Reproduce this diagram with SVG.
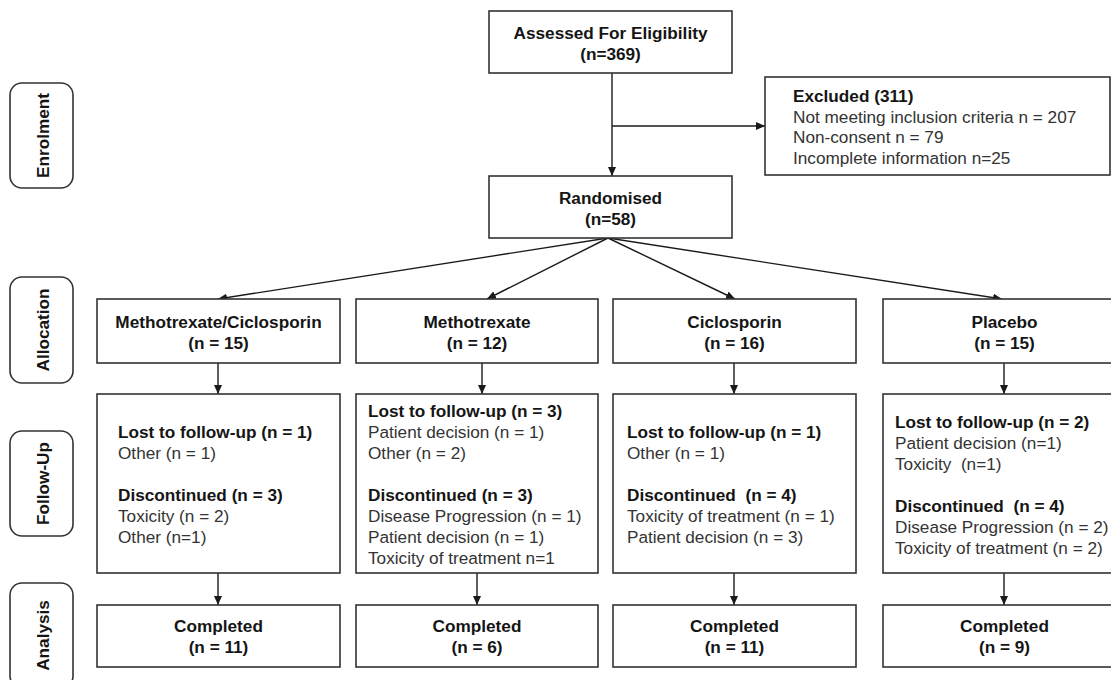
<svg xmlns="http://www.w3.org/2000/svg" width="1111" height="680" viewBox="0 0 1111 680">
<defs>
<marker id="ah" markerUnits="userSpaceOnUse" markerWidth="9" markerHeight="8" refX="9" refY="4" orient="auto">
<path d="M0,0 L9,4 L0,8 z" fill="#1a1a1a"/>
</marker>
<style>
.box{fill:#fff;stroke:#333;stroke-width:1.6}
.lab{fill:#fff;stroke:#333;stroke-width:1.6}
.t{font-family:"Liberation Sans",Arial,Helvetica,sans-serif;font-size:17.2px}
.b{font-weight:bold;fill:#151515}
.r{fill:#333}
.c{text-anchor:middle}
.con{fill:none;stroke:#1a1a1a;stroke-width:1.4;marker-end:url(#ah)}
.plain{fill:none;stroke:#1a1a1a;stroke-width:1.4}
</style>
</defs>
<rect width="1111" height="680" fill="#fff"/>

<g id="stage-labels">
<g id="lab-enrolment"><rect class="lab" x="10" y="83" width="63" height="105" rx="12"/><text class="t b c" transform="translate(48.5,135.5) rotate(-90)">Enrolment</text></g>
<g id="lab-allocation"><rect class="lab" x="10" y="277" width="63" height="106" rx="12"/><text class="t b c" transform="translate(48.5,330) rotate(-90)">Allocation</text></g>
<g id="lab-followup"><rect class="lab" x="10" y="431" width="63" height="105" rx="12"/><text class="t b c" transform="translate(48.5,483.5) rotate(-90)">Follow-Up</text></g>
<g id="lab-analysis"><rect class="lab" x="10" y="583" width="63" height="105" rx="12"/><text class="t b c" transform="translate(48.5,635.5) rotate(-90)">Analysis</text></g>
</g>

<g id="connectors">
<line class="con" x1="612" y1="73" x2="612" y2="176"/>
<line class="con" x1="612" y1="126" x2="765" y2="126"/>
<line class="con" x1="608" y1="238" x2="218" y2="299"/>
<line class="con" x1="608" y1="238" x2="487" y2="299"/>
<line class="con" x1="608" y1="238" x2="735" y2="299"/>
<line class="con" x1="608" y1="238" x2="1002" y2="299"/>
<line class="con" x1="218" y1="363" x2="218" y2="394"/>
<line class="con" x1="482" y1="363" x2="482" y2="394"/>
<line class="con" x1="734" y1="363" x2="734" y2="394"/>
<line class="con" x1="1004" y1="363" x2="1004" y2="394"/>
<line class="con" x1="218" y1="573" x2="218" y2="605"/>
<line class="con" x1="477" y1="573" x2="477" y2="605"/>
<line class="con" x1="734" y1="573" x2="734" y2="605"/>
<line class="con" x1="1004" y1="573" x2="1004" y2="605"/>
</g>

<g id="assessed">
<rect class="box" x="489" y="11" width="243" height="62"/>
<text class="t b c" x="610.5" y="39">Assessed For Eligibility</text>
<text class="t b c" x="610.5" y="60">(n=369)</text>
</g>

<g id="excluded">
<rect class="box" x="765" y="77" width="345" height="98"/>
<text class="t b" x="793" y="102">Excluded (311)</text>
<text class="t r" x="793" y="122.5">Not meeting inclusion criteria n = 207</text>
<text class="t r" x="793" y="143">Non-consent n = 79</text>
<text class="t r" x="793" y="163.5">Incomplete information n=25</text>
</g>

<g id="randomised">
<rect class="box" x="489" y="176" width="243" height="62"/>
<text class="t b c" x="610.5" y="203.5">Randomised</text>
<text class="t b c" x="610.5" y="224.5">(n=58)</text>
</g>

<g id="alloc-mc">
<rect class="box" x="97" y="299" width="243" height="64"/>
<text class="t b c" x="218.5" y="328">Methotrexate/Ciclosporin</text>
<text class="t b c" x="218.5" y="349">(n = 15)</text>
</g>
<g id="alloc-m">
<rect class="box" x="356" y="299" width="242" height="64"/>
<text class="t b c" x="477" y="328">Methotrexate</text>
<text class="t b c" x="477" y="349">(n = 12)</text>
</g>
<g id="alloc-c">
<rect class="box" x="613" y="299" width="243" height="64"/>
<text class="t b c" x="734.5" y="328">Ciclosporin</text>
<text class="t b c" x="734.5" y="349">(n = 16)</text>
</g>
<g id="alloc-p">
<rect class="box" x="883" y="299" width="243" height="64"/>
<text class="t b c" x="1004.5" y="328">Placebo</text>
<text class="t b c" x="1004.5" y="349">(n = 15)</text>
</g>

<g id="follow-mc">
<rect class="box" x="97" y="394" width="243" height="179"/>
<text class="t b" x="118" y="438">Lost to follow-up (n = 1)</text>
<text class="t r" x="118" y="459">Other (n = 1)</text>
<text class="t b" x="118" y="501">Discontinued (n = 3)</text>
<text class="t r" x="118" y="522">Toxicity (n = 2)</text>
<text class="t r" x="118" y="543">Other (n=1)</text>
</g>
<g id="follow-m">
<rect class="box" x="356" y="394" width="242" height="179"/>
<text class="t b" x="368" y="417">Lost to follow-up (n = 3)</text>
<text class="t r" x="368" y="438">Patient decision (n = 1)</text>
<text class="t r" x="368" y="459">Other (n = 2)</text>
<text class="t b" x="368" y="501">Discontinued (n = 3)</text>
<text class="t r" x="368" y="522">Disease Progression (n = 1)</text>
<text class="t r" x="368" y="543">Patient decision (n = 1)</text>
<text class="t r" x="368" y="563.5">Toxicity of treatment n=1</text>
</g>
<g id="follow-c">
<rect class="box" x="613" y="394" width="243" height="179"/>
<text class="t b" x="627" y="438">Lost to follow-up (n = 1)</text>
<text class="t r" x="627" y="459">Other (n = 1)</text>
<text class="t b" x="627" y="501">Discontinued&#160; (n = 4)</text>
<text class="t r" x="627" y="522">Toxicity of treatment (n = 1)</text>
<text class="t r" x="627" y="543">Patient decision (n = 3)</text>
</g>
<g id="follow-p">
<rect class="box" x="883" y="394" width="243" height="179"/>
<text class="t b" x="895" y="428">Lost to follow-up (n = 2)</text>
<text class="t r" x="895" y="449">Patient decision (n=1)</text>
<text class="t r" x="895" y="470">Toxicity&#160; (n=1)</text>
<text class="t b" x="895" y="512">Discontinued&#160; (n = 4)</text>
<text class="t r" x="895" y="533">Disease Progression (n = 2)</text>
<text class="t r" x="895" y="554">Toxicity of treatment (n = 2)</text>
</g>

<g id="done-mc">
<rect class="box" x="97" y="605" width="243" height="62"/>
<text class="t b c" x="218.5" y="632">Completed</text>
<text class="t b c" x="218.5" y="653">(n = 11)</text>
</g>
<g id="done-m">
<rect class="box" x="356" y="605" width="242" height="62"/>
<text class="t b c" x="477" y="632">Completed</text>
<text class="t b c" x="477" y="653">(n = 6)</text>
</g>
<g id="done-c">
<rect class="box" x="613" y="605" width="243" height="62"/>
<text class="t b c" x="734.5" y="632">Completed</text>
<text class="t b c" x="734.5" y="653">(n = 11)</text>
</g>
<g id="done-p">
<rect class="box" x="883" y="605" width="243" height="62"/>
<text class="t b c" x="1004.5" y="632">Completed</text>
<text class="t b c" x="1004.5" y="653">(n = 9)</text>
</g>
</svg>
